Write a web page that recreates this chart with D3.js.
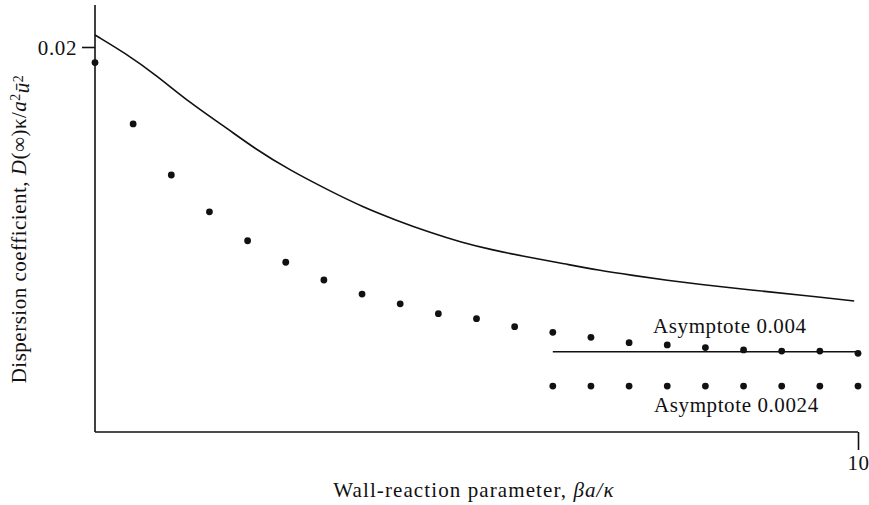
<!DOCTYPE html>
<html lang="en">
<head>
    <meta charset="UTF-8">
    <title>Dispersion coefficient vs wall-reaction parameter</title>
    <script src="https://cdnjs.cloudflare.com/ajax/libs/d3/7.8.5/d3.min.js"></script>
    <style>
        body {
            margin: 0;
            padding: 0;
            background: #fff;
        }
        svg text {
            font-family: "Liberation Serif", "Times New Roman", serif;
            fill: #111;
        }
        .curve {
            fill: none;
            stroke: #111;
            stroke-width: 1.6px;
        }
        .axis-line {
            stroke: #111;
            stroke-width: 1.6px;
        }
    </style>
</head>
<body>
    <div id="chart"></div>
    <script>
        // solid curve (upper)
        const curveX = [0, 0.4, 0.8, 1.25, 1.7, 2.1, 2.55, 3.1, 3.5, 3.95, 4.4, 4.8, 5.2, 5.7, 6.15, 6.6, 7.05, 7.5, 7.95, 8.4, 8.8, 9.25, 9.95];
        const curveY = [0.02063, 0.01967, 0.01853, 0.01705, 0.01582, 0.01465, 0.01354, 0.0124, 0.01162, 0.0109, 0.01025, 0.00975, 0.00935, 0.00895, 0.00862, 0.00828, 0.00801, 0.00775, 0.00753, 0.00733, 0.00716, 0.00698, 0.00667];

        // dotted series (upper)
        const dotsX = [0, 0.5, 1, 1.5, 2, 2.5, 3, 3.5, 4, 4.5, 5, 5.5, 6, 6.5, 7, 7.5, 8, 8.5, 9, 9.5, 10];
        const dotsY = [0.01918, 0.01596, 0.01328, 0.01135, 0.00983, 0.0087, 0.00777, 0.00703, 0.00652, 0.006, 0.00574, 0.00532, 0.00502, 0.00476, 0.00448, 0.00436, 0.00422, 0.0041, 0.00404, 0.00404, 0.00392];

        // lower dotted series
        const lowX = [6, 6.5, 7, 7.5, 8, 8.5, 9, 9.5, 10];
        const lowY = [0.0022, 0.0022, 0.0022, 0.0022, 0.0022, 0.0022, 0.0022, 0.0022, 0.0022];

        // asymptote line
        const asymX = [6, 10];
        const asymY = [0.004, 0.004];

        const yTicks = [0.02];
        const xTicks = [10];

        const W = 869, H = 505;
        const svg = d3.select("#chart").append("svg")
            .attr("width", W)
            .attr("height", H);

        const x = d3.scaleLinear().domain([0, 10]).range([95, 858]);
        const y = d3.scaleLinear().domain([0, 0.02]).range([428, 47]);
        const axisY = y(0) + 4;

        // axes lines
        svg.append("line").attr("class", "axis-line")
            .attr("x1", x(0)).attr("x2", x(0))
            .attr("y1", 5).attr("y2", axisY);
        svg.append("line").attr("class", "axis-line")
            .attr("x1", x(0)).attr("x2", x(10))
            .attr("y1", axisY).attr("y2", axisY);

        const yAxis = svg.append("g")
            .attr("transform", `translate(${x(0)},0)`)
            .call(d3.axisLeft(y).tickValues(yTicks).tickSize(13).tickPadding(5).tickFormat(d3.format(".2f")));
        yAxis.select(".domain").remove();
        yAxis.selectAll(".tick line").attr("stroke", "#111").attr("stroke-width", 1.6);
        yAxis.selectAll(".tick text")
            .style("font-size", "21px")
            .style("letter-spacing", "0.6px")
            .attr("dy", "0.35em");

        const xAxis = svg.append("g")
            .attr("transform", `translate(0,${axisY})`)
            .call(d3.axisBottom(x).tickValues(xTicks).tickSize(18).tickPadding(5));
        xAxis.select(".domain").remove();
        xAxis.selectAll(".tick line").attr("stroke", "#111").attr("stroke-width", 1.6);
        xAxis.selectAll(".tick text")
            .style("font-size", "21px")
            .style("letter-spacing", "0.6px");

        // curve
        const curvePts = curveX.map((d, i) => [d, curveY[i]]);
        svg.append("path")
            .attr("class", "curve")
            .attr("d", d3.line().x(d => x(d[0])).y(d => y(d[1])).curve(d3.curveBasis)(curvePts));

        // asymptote
        svg.append("path")
            .attr("class", "curve")
            .attr("d", d3.line().x(d => x(d[0])).y(d => y(d[1]))(asymX.map((d, i) => [d, asymY[i]])));

        // dots
        const dotData = dotsX.map((d, i) => [d, dotsY[i]]).concat(lowX.map((d, i) => [d, lowY[i]]));
        svg.selectAll(".dot")
            .data(dotData)
            .enter().append("circle")
            .attr("class", "dot")
            .attr("cx", d => x(d[0]))
            .attr("cy", d => y(d[1]))
            .attr("r", 3.4)
            .attr("fill", "#111");

        // annotations
        svg.append("text")
            .attr("x", 653).attr("y", 333)
            .style("font-size", "21px")
            .style("letter-spacing", "0.6px")
            .text("Asymptote 0.004");
        svg.append("text")
            .attr("x", 654).attr("y", 412)
            .style("font-size", "21px")
            .style("letter-spacing", "0.6px")
            .text("Asymptote 0.0024");

        // x label
        const xl = svg.append("text")
            .attr("x", 474).attr("y", 497)
            .attr("text-anchor", "middle")
            .style("font-size", "21px")
            .style("letter-spacing", "1.1px");
        xl.append("tspan").text("Wall-reaction parameter, ");
        xl.append("tspan").style("font-style", "italic").text("βa/κ");

        // y label
        const yl = svg.append("text")
            .attr("transform", "translate(26,229) rotate(-90)")
            .attr("text-anchor", "middle")
            .style("font-size", "21px")
            .style("letter-spacing", "0.5px");
        yl.append("tspan").text("Dispersion coefficient, ");
        yl.append("tspan").style("font-style", "italic").text("D");
        yl.append("tspan").text("(∞)κ/");
        yl.append("tspan").style("font-style", "italic").text("a");
        yl.append("tspan").attr("dy", "-0.45em").style("font-size", "14px").text("2");
        yl.append("tspan").attr("dy", "0.45em").style("font-style", "italic").text("ū");
        yl.append("tspan").attr("dy", "-0.45em").style("font-size", "14px").text("2");
    </script>
</body>
</html>
